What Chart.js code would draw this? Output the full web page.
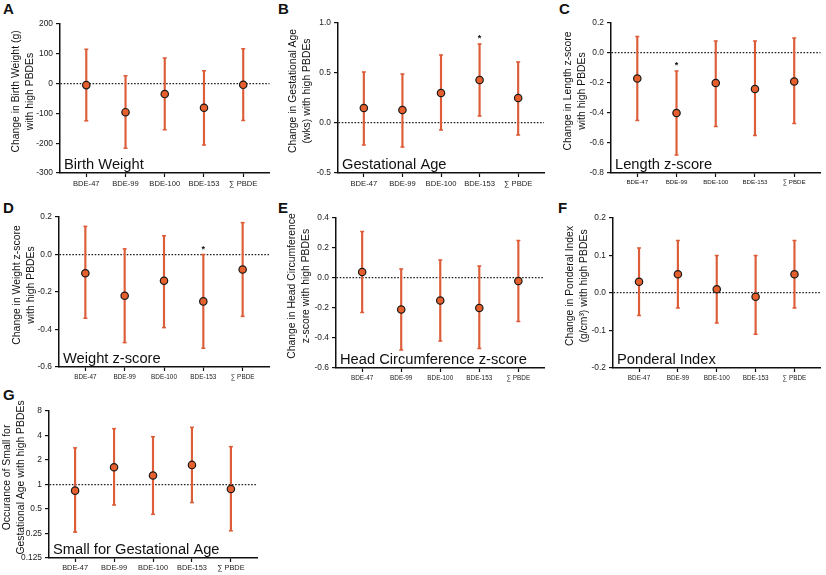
<!DOCTYPE html>
<html>
<head>
<meta charset="utf-8">
<script src="https://cdn.jsdelivr.net/npm/chart.js@4.4.0/dist/chart.umd.min.js"></script>
<style>
body { margin: 0; background: #fff; width: 826px; height: 575px; position: relative; overflow: hidden; font-family: "Liberation Sans", Arial, sans-serif; }
.box { position: absolute; }
.tag { position: absolute; font-weight: bold; font-size: 15px; line-height: 15px; color: #111; }
</style>
</head>
<body>
<div class="tag" style="left:3px;top:1px">A</div>
<div class="tag" style="left:278px;top:1px">B</div>
<div class="tag" style="left:559px;top:1px">C</div>
<div class="tag" style="left:3px;top:200px">D</div>
<div class="tag" style="left:278px;top:200px">E</div>
<div class="tag" style="left:558px;top:200px">F</div>
<div class="tag" style="left:3px;top:387px">G</div>

<script>
// categories on every x axis
var categories = ['BDE-47', 'BDE-99', 'BDE-100', 'BDE-153', '\u2211 PBDE'];

// A - birth weight (g)
var bwMean = [-5, -96, -35, -81, -4];
var bwLow  = [-125, -217, -155, -206, -124];
var bwHigh = [115, 26, 86, 43, 117];
var bwTicks = [-300, -200, -100, 0, 100, 200];

// B - gestational age (wks)
var gaMean = [0.15, 0.13, 0.30, 0.43, 0.25];
var gaLow  = [-0.22, -0.24, -0.07, 0.07, -0.12];
var gaHigh = [0.51, 0.49, 0.68, 0.79, 0.61];
var gaStar = [0, 0, 0, 1, 0];
var gaTicks = [-0.5, 0, 0.5, 1.0];

// C - length z-score
var lenMean = [-0.17, -0.40, -0.20, -0.24, -0.19];
var lenLow  = [-0.45, -0.68, -0.49, -0.55, -0.47];
var lenHigh = [0.11, -0.12, 0.08, 0.08, 0.10];
var lenStar = [0, 1, 0, 0, 0];
var lenTicks = [-0.8, -0.6, -0.4, -0.2, 0, 0.2];

// D - weight z-score
var wtMean = [-0.10, -0.22, -0.14, -0.25, -0.08];
var wtLow  = [-0.34, -0.47, -0.39, -0.50, -0.33];
var wtHigh = [0.15, 0.03, 0.10, 0.00, 0.17];
var wtStar = [0, 0, 0, 1, 0];
var wtTicks = [-0.6, -0.4, -0.2, 0, 0.2];

// E - head circumference z-score
var hcMean = [0.04, -0.21, -0.15, -0.20, -0.02];
var hcLow  = [-0.23, -0.48, -0.42, -0.47, -0.29];
var hcHigh = [0.31, 0.06, 0.12, 0.08, 0.25];
var hcTicks = [-0.6, -0.4, -0.2, 0, 0.2, 0.4];

// F - ponderal index
var piMean = [0.03, 0.05, 0.01, -0.01, 0.05];
var piLow  = [-0.06, -0.04, -0.08, -0.11, -0.04];
var piHigh = [0.12, 0.14, 0.10, 0.10, 0.14];
var piTicks = [-0.2, -0.1, 0, 0.1, 0.2];

// G - small for gestational age (odds, log2 axis)
var sgaMean = [0.84, 1.63, 1.29, 1.74, 0.88];
var sgaLow  = [0.26, 0.56, 0.43, 0.60, 0.27];
var sgaHigh = [2.82, 4.86, 3.87, 5.04, 2.92];
var sgaTicks = [0.125, 0.25, 0.5, 1, 2, 4, 8];
var sgaTickLabels = ['0.125', '0.25', '0.5', '1', '2', '4', '8'];

var FONT = '"Liberation Sans", Arial, sans-serif';
var barColor = '#dc5d38';
var dotColor = '#e5602c';
var noStars = [0, 0, 0, 0, 0];

var panels = [
  { box: [0, 12, 275, 183], area: [60, 24, 270, 173], mean: bwMean, low: bwLow, high: bwHigh, stars: noStars,
    ticks: bwTicks, dec: 0, ref: 0, xFont: 7.6, titleX: 16,
    title: ['Change in Birth Weight (g)', 'with high PBDEs'], name: 'Birth Weight' },
  { box: [275, 12, 275, 183], area: [338, 23, 544, 173], mean: gaMean, low: gaLow, high: gaHigh, stars: gaStar,
    ticks: gaTicks, dec: 1, ref: 0, xFont: 7.6, titleX: 18,
    title: ['Change in Gestational Age', '(wks) with high PBDEs'], name: 'Gestational Age' },
  { box: [550, 12, 276, 183], area: [611, 23, 822, 173], mean: lenMean, low: lenLow, high: lenHigh, stars: lenStar,
    ticks: lenTicks, dec: 1, ref: 0, xFont: 6.2, titleX: 18,
    title: ['Change in Length z-score', 'with high PBDEs'], name: 'Length z-score' },
  { box: [0, 205, 275, 183], area: [59, 217, 269, 367], mean: wtMean, low: wtLow, high: wtHigh, stars: wtStar,
    ticks: wtTicks, dec: 1, ref: 0, xFont: 6.4, titleX: 17,
    title: ['Change in Weight z-score', 'with high PBDEs'], name: 'Weight z-score' },
  { box: [275, 205, 275, 183], area: [336, 218, 547, 368], mean: hcMean, low: hcLow, high: hcHigh, stars: noStars,
    ticks: hcTicks, dec: 1, ref: 0, xFont: 6.4, titleX: 17,
    title: ['Change in Head Circumference', 'z-score with high PBDEs'], name: 'Head Circumference z-score' },
  { box: [550, 205, 276, 183], area: [613, 218, 822, 368], mean: piMean, low: piLow, high: piHigh, stars: noStars,
    ticks: piTicks, dec: 1, ref: 0, xFont: 6.4, titleX: 20,
    title: ['Change in Ponderal Index', '(g/cm\u00b3) with high PBDEs'], name: 'Ponderal Index' },
  { box: [0, 398, 275, 177], area: [49, 411, 257, 558], mean: sgaMean, low: sgaLow, high: sgaHigh, stars: noStars,
    ticks: sgaTicks, tickText: sgaTickLabels, log: true, ref: 1, xFont: 7.4, titleX: 7,
    title: ['Occurance of Small for', 'Gestational Age with high PBDEs'], name: 'Small for Gestational Age' }
];

// text drawn on top of each panel: y title, panel name, significance stars
function decor(p) {
  return {
    id: 'decor',
    afterDraw: function(chart) {
      var ctx = chart.ctx, a = chart.chartArea, xs = chart.scales.x, ys = chart.scales.y;
      ctx.save();
      ctx.fillStyle = '#111';
      ctx.textAlign = 'left';
      ctx.textBaseline = 'alphabetic';
      ctx.font = '14.7px ' + FONT;
      ctx.fillText(p.name, a.left + 4, a.bottom - 4);

      ctx.textAlign = 'center';
      ctx.font = 'bold 9px ' + FONT;
      p.stars.forEach(function(s, i) {
        if (s) ctx.fillText('*', xs.getPixelForValue(i), ys.getPixelForValue(p.high[i]) - 3);
      });

      ctx.translate(p.titleX, (a.top + a.bottom) / 2 - 7);
      ctx.rotate(-Math.PI / 2);
      ctx.textBaseline = 'middle';
      ctx.font = '10.4px ' + FONT;
      p.title.forEach(function(t, k) { ctx.fillText(t, 0, k * 13.8); });
      ctx.restore();
    }
  };
}

panels.forEach(function(p) {
  var div = document.createElement('div');
  div.className = 'box';
  div.style.left = p.box[0] + 'px';
  div.style.top = p.box[1] + 'px';
  div.style.width = p.box[2] + 'px';
  div.style.height = p.box[3] + 'px';
  var canvas = document.createElement('canvas');
  div.appendChild(canvas);
  document.body.appendChild(div);

  var yw = p.area[0] - p.box[0];
  var padTop = p.area[1] - p.box[1];
  var padRight = p.box[0] + p.box[2] - p.area[2];
  var xh = p.box[1] + p.box[3] - p.area[3];

  new Chart(canvas, {
    type: 'bar',
    data: {
      datasets: [
        { type: 'scatter', order: 0, data: p.mean.map(function(v, i) { return { x: i, y: v }; }),
          pointRadius: 3.7, backgroundColor: dotColor, borderColor: '#1a1a1a', borderWidth: 1.2 },
        { type: 'scatter', order: 1, data: p.low.map(function(v, i) { return { x: i, y: v }; }),
          pointStyle: 'line', pointRadius: 2, borderColor: barColor, borderWidth: 1.5 },
        { type: 'scatter', order: 1, data: p.high.map(function(v, i) { return { x: i, y: v }; }),
          pointStyle: 'line', pointRadius: 2, borderColor: barColor, borderWidth: 1.5 },
        { type: 'bar', order: 2, data: p.low.map(function(v, i) { return { x: i, y: [v, p.high[i]] }; }),
          backgroundColor: barColor, barThickness: 1.5, borderWidth: 0 }
      ]
    },
    options: {
      responsive: true,
      maintainAspectRatio: false,
      animation: false,
      events: [],
      layout: { padding: { top: padTop, right: padRight, left: 0, bottom: 0 } },
      plugins: { legend: { display: false }, tooltip: { enabled: false } },
      scales: {
        x: {
          type: 'linear', min: -0.67, max: 4.67, offset: false,
          afterBuildTicks: function(s) { s.ticks = categories.map(function(c, i) { return { value: i }; }); },
          afterFit: function(s) { s.height = xh; },
          ticks: { autoSkip: false, maxRotation: 0, padding: 2, color: '#1a1a1a',
                   font: { size: p.xFont, family: FONT },
                   callback: function(v) { return categories[v]; } },
          grid: { offset: false, drawOnChartArea: false, tickLength: 4, tickColor: '#111', tickWidth: 1.2 },
          border: { color: '#111', width: 1.5 }
        },
        y: {
          type: p.log ? 'logarithmic' : 'linear',
          min: p.ticks[0], max: p.ticks[p.ticks.length - 1],
          afterBuildTicks: function(s) { s.ticks = p.ticks.map(function(v) { return { value: v }; }); },
          afterFit: function(s) { s.width = yw; },
          ticks: { padding: 3, color: '#1a1a1a', font: { size: 8.4, family: FONT },
                   callback: function(v, i) { return p.tickText ? p.tickText[i] : p.ticks[i].toFixed(p.dec); } },
          grid: { color: function(c) { return c.tick && c.tick.value === p.ref ? '#222' : 'rgba(0,0,0,0)'; },
                  lineWidth: 1.2, tickLength: 4, tickColor: '#111', tickWidth: 1.2 },
          border: { color: '#111', width: 1.5, dash: [1.6, 1.6] }
        }
      }
    },
    plugins: [decor(p)]
  });
});
</script>
</body>
</html>
